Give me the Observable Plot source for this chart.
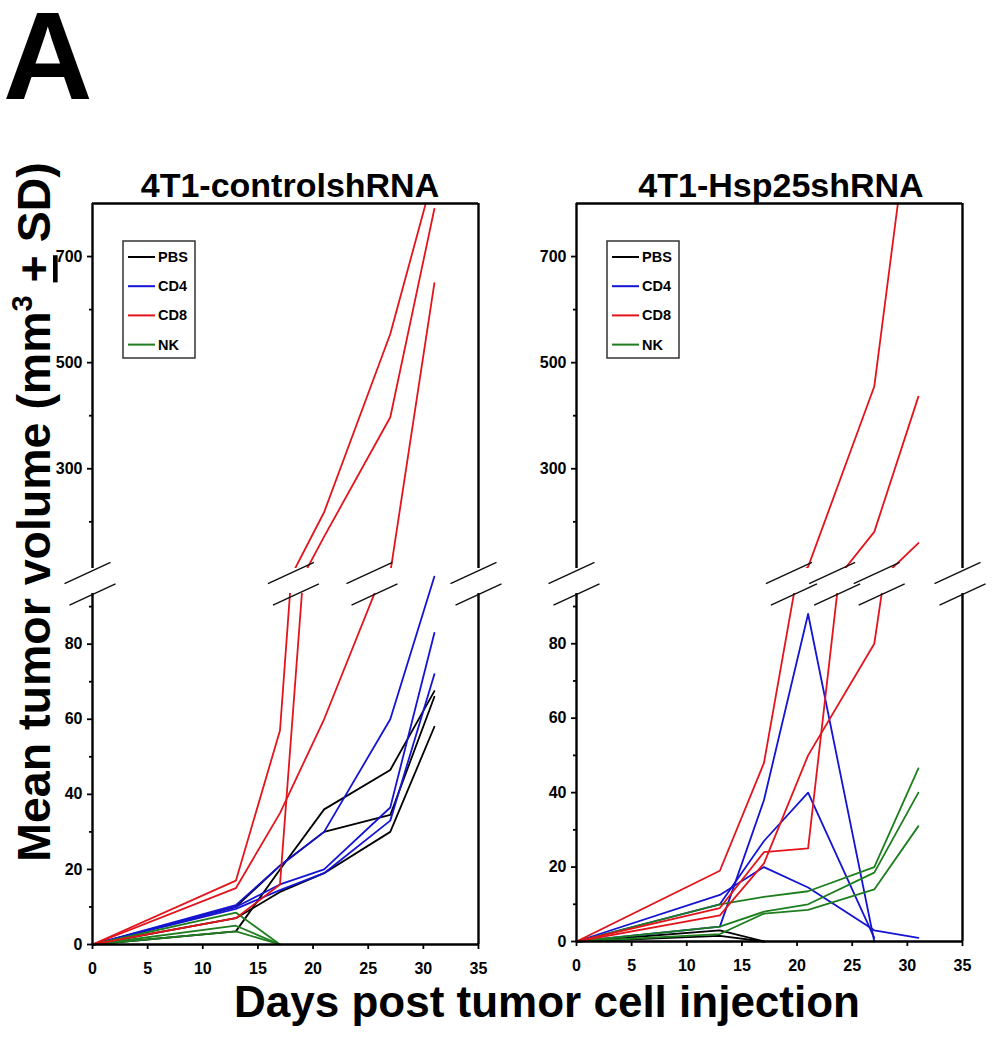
<!DOCTYPE html>
<html><head><meta charset="utf-8">
<script src="https://cdn.jsdelivr.net/npm/d3@7"></script>
<script src="https://cdn.jsdelivr.net/npm/@observablehq/plot@0.6"></script>
<style>
body{margin:0;background:#fff;}
#wrap{position:relative;width:994px;height:1050px;overflow:hidden;background:#fff;}
</style></head><body><div id="wrap"></div>
<script>
// ---------- data ----------
const days = [0, 13, 17, 21, 27, 31];
const groups = ["PBS", "CD4", "CD8", "NK"];
const groupColors = ["#000000", "#1414d2", "#e3141c", "#1e7e1e"];
const panelTitles = ["4T1-controlshRNA", "4T1-Hsp25shRNA"];
const xTicks = [0, 5, 10, 15, 20, 25, 30, 35];
const lowerTicks = [0, 20, 40, 60, 80];
const lowerMinor = [10, 30, 50, 70, 90];
const upperTicks = [300, 500, 700];
const upperMinor = [200, 400, 600];
const lowerDomain = [0, 93.5];
const upperDomain = [112, 800];
const xDomain = [0, 35];

// 4T1-controlshRNA
const ctrlPBS = [[0, 3.5, 20, 36, 46.5, 67.5], [0, 10, 21, 30, 34.5, 66], [0, 7, 14, 19, 30, 58]];
const ctrlCD4 = [[0, 10.5, 21, 30, 60, 98], [0, 10, 16, 20, 36.5, 83], [0, 9.5, 14.5, 19, 33, 72]];
const ctrlCD8 = [[0, 17, 57, 218, 554, 860], [0, 7, 16, 172, 397, 790], [0, 15, 35, 60, 104, 650]];
const ctrlNK  = [[0, 8.5, 0, null, null, null], [0, 5, 0, null, null, null], [0, 3.5, 0, null, null, null]];

// 4T1-Hsp25shRNA
const hspPBS = [[0, 3, 0, null, null, null], [0, 1.5, 0, null, null, null]];
const hspCD4 = [[0, 12.5, 20, 14.5, 3, 1], [0, 4, 38, 88, 0, null], [0, 10, 27, 40, 1, null]];
const hspCD8 = [[0, 19, 48, 115, 455, 1100], [0, 9, 24, 25, 181, 436], [0, 7, 21, 50, 80, 160]];
const hspNK  = [[0, 10, 12, 13.5, 20, 46.5], [0, 4, 8, 10, 18.5, 40], [0, 2, 7.5, 8.5, 14, 31]];

const panels = [
  {title: panelTitles[0], series: {PBS: ctrlPBS, CD4: ctrlCD4, CD8: ctrlCD8, NK: ctrlNK}, left: 0, zeroY: 944},
  {title: panelTitles[1], series: {PBS: hspPBS, CD4: hspCD4, CD8: hspCD8, NK: hspNK}, left: 484, zeroY: 941}
];

// ---------- layout ----------
const W = 498, H = 1050, ML = 92, MR = 20;
const lowerTop = 593, upperTop = 203, upperBottom = 568;
const FONT = '"Liberation Sans", Arial, sans-serif';
const wrap = document.getElementById("wrap");

const breakSymbol = {
  draw(ctx, size) {
    const r = Math.sqrt(size / Math.PI);
    ctx.moveTo(-r, r * 0.46);
    ctx.lineTo(r, -r * 0.46);
  }
};

function buildRows(ser) {
  const rows = [];
  groups.forEach(g => ser[g].forEach((vals, i) => vals.forEach((v, j) => {
    if (v != null) rows.push({group: g, series: g + i, day: days[j], value: v});
  })));
  return rows;
}

function crossings(ser) {
  const out = [];
  groups.forEach(g => ser[g].forEach(vals => {
    for (let j = 0; j < vals.length - 1; j++) {
      const a = vals[j], b = vals[j + 1];
      if (a == null || b == null) continue;
      if (a < lowerDomain[1] && b >= lowerDomain[1]) {
        const rest = d3.max(vals.slice(j + 1));
        if (rest >= upperDomain[0]) out.push(days[j] + (lowerDomain[1] - a) / (b - a) * (days[j + 1] - days[j]));
      }
    }
  }));
  out.sort((a, b) => a - b);
  const clusters = [];
  for (const d of out) {
    const last = clusters[clusters.length - 1];
    if (last && d - last[last.length - 1] < 2) last.push(d); else clusters.push([d]);
  }
  return clusters.map(c => d3.mean(c));
}

const svgStyle = (left) => `position:absolute;left:${left}px;top:0;background:transparent;overflow:visible;font-family:${FONT};font-weight:bold;font-size:16px;color:#000;`;

panels.forEach(p => {
  const rows = buildRows(p.series);
  const smax = d3.rollup(rows, v => d3.max(v, d => d.value), d => d.series);
  const tall = rows.filter(d => smax.get(d.series) >= upperDomain[0]);
  const short = rows.filter(d => smax.get(d.series) < upperDomain[0]);
  const breaks = [xDomain[0], ...crossings(p.series), xDomain[1]];
  const color = {domain: groups, range: groupColors};
  const lineOpts = {x: "day", y: "value", z: "series", stroke: "group", strokeWidth: 1.8};

  const lower = Plot.plot({
    width: W, height: H, marginLeft: ML, marginRight: MR,
    marginTop: lowerTop, marginBottom: H - p.zeroY,
    x: {domain: xDomain, label: null},
    y: {domain: lowerDomain, label: null},
    color,
    style: svgStyle(p.left),
    marks: [
      Plot.line(short, lineOpts),
      Plot.line(tall, {...lineOpts, clip: true}),
      Plot.ruleX(xDomain, {strokeWidth: 2.4}),
      Plot.ruleY([0], {strokeWidth: 2.4}),
      Plot.axisY(lowerTicks, {tickSize: 5, tickPadding: 5, strokeWidth: 1.8, fontWeight: "bold"}),
      Plot.axisY(lowerMinor, {tickSize: 3, text: null, strokeWidth: 1.8}),
      Plot.axisX(xTicks, {tickSize: 5, tickPadding: 13, strokeWidth: 1.8, fontWeight: "bold"}),
      Plot.dot(breaks, {x: d => d, y: () => lowerDomain[1], symbol: breakSymbol, r: 23, fill: "none", stroke: "#111", strokeWidth: 1.5, dy: 1})
    ]
  });
  wrap.appendChild(lower);

  const upper = Plot.plot({
    width: W, height: H, marginLeft: ML, marginRight: MR,
    marginTop: upperTop, marginBottom: H - upperBottom,
    x: {domain: xDomain, axis: null},
    y: {domain: upperDomain, label: null},
    color,
    style: svgStyle(p.left),
    marks: [
      Plot.line(tall, {...lineOpts, clip: true}),
      Plot.ruleX(xDomain, {strokeWidth: 2.4}),
      Plot.ruleY([upperDomain[1]], {strokeWidth: 2.4}),
      Plot.axisY(upperTicks, {tickSize: 5, tickPadding: 5, strokeWidth: 1.8, fontWeight: "bold"}),
      Plot.axisY(upperMinor, {tickSize: 3, text: null, strokeWidth: 1.8}),
      Plot.dot(breaks, {x: d => d, y: () => upperDomain[0], symbol: breakSymbol, r: 23, fill: "none", stroke: "#111", strokeWidth: 1.5, dx: -5, dy: 4.5})
    ]
  });
  wrap.appendChild(upper);
});

// ---------- text & legends overlay ----------
const ov = d3.select(wrap).append("svg")
  .attr("width", 994).attr("height", 1050)
  .style("position", "absolute").style("left", 0).style("top", 0)
  .style("font-family", FONT).style("font-weight", "bold");

ov.append("text").attr("x", 3).attr("y", 99).attr("font-size", 124).text("A");

const titleX = [290, 781];
panels.forEach((p, k) => {
  ov.append("text").attr("x", titleX[k]).attr("y", 197).attr("text-anchor", "middle")
    .attr("font-size", 34).text(p.title);
  // legend
  const x0 = p.left + ML;
  const g = ov.append("g");
  g.append("rect").attr("x", x0 + 31).attr("y", 241).attr("width", 72).attr("height", 117)
    .attr("fill", "white").attr("stroke", "#333").attr("stroke-width", 1.5);
  groups.forEach((name, i) => {
    const y = 257 + i * 29.2;
    g.append("line").attr("x1", x0 + 36).attr("x2", x0 + 63).attr("y1", y).attr("y2", y)
      .attr("stroke", groupColors[i]).attr("stroke-width", 2);
    g.append("text").attr("x", x0 + 66).attr("y", y + 5).attr("font-size", 14.5).text(name);
  });
});

ov.append("text").attr("x", 547).attr("y", 1017).attr("text-anchor", "middle")
  .attr("font-size", 44).text("Days post tumor cell injection");

const yl = ov.append("text").attr("transform", "translate(50,512) rotate(-90)")
  .attr("text-anchor", "middle").attr("font-size", 46.5);
yl.append("tspan").text("Mean tumor volume (mm");
yl.append("tspan").attr("font-size", 29).attr("dy", -18).text("3");
yl.append("tspan").attr("dy", 18).text(" ");
yl.append("tspan").style("text-decoration", "underline").text("+");
yl.append("tspan").text(" SD)");
</script></body></html>
